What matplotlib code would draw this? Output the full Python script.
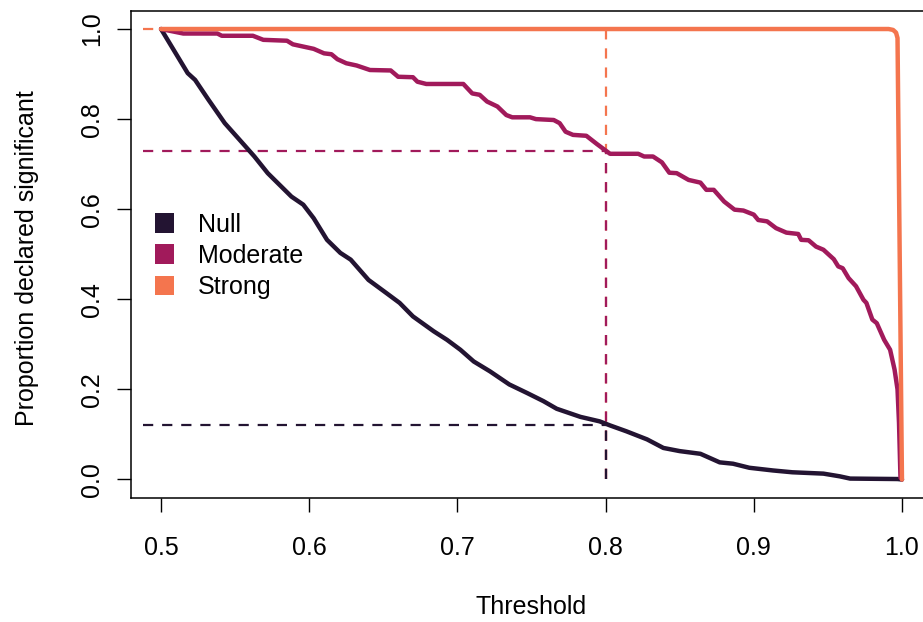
import matplotlib
matplotlib.use("Agg")
import matplotlib.pyplot as plt
from matplotlib.patches import Rectangle

# ---------------- data ----------------
categories = ["Null", "Moderate", "Strong"]
colors = ["#231432", "#A11A5B", "#F4754E"]

null_t = [0.5, 0.518, 0.523, 0.532, 0.543, 0.556, 0.563, 0.572, 0.588, 0.596,
          0.603, 0.612, 0.621, 0.628, 0.640, 0.652, 0.661, 0.670, 0.684, 0.693,
          0.702, 0.711, 0.722, 0.735, 0.747, 0.758, 0.767, 0.783, 0.796, 0.803,
          0.814, 0.828, 0.839, 0.850, 0.864, 0.877, 0.886, 0.897, 0.913, 0.926,
          0.947, 0.958, 0.965, 0.997, 1.0]
null_p = [1.0, 0.902, 0.887, 0.843, 0.791, 0.743, 0.717, 0.680, 0.628, 0.610,
          0.580, 0.532, 0.503, 0.488, 0.443, 0.414, 0.392, 0.362, 0.329, 0.310,
          0.288, 0.262, 0.240, 0.211, 0.192, 0.174, 0.157, 0.139, 0.129, 0.120,
          0.107, 0.089, 0.070, 0.063, 0.057, 0.038, 0.035, 0.026, 0.020, 0.016,
          0.013, 0.007, 0.002, 0.001, 0.0]

mod_t = [0.5, 0.515, 0.538, 0.541, 0.562, 0.569, 0.585, 0.589, 0.596, 0.603,
         0.610, 0.615, 0.619, 0.625, 0.632, 0.641, 0.655, 0.660, 0.670, 0.673,
         0.679, 0.704, 0.710, 0.715, 0.720, 0.727, 0.733, 0.737, 0.749, 0.753,
         0.765, 0.769, 0.773, 0.778, 0.787, 0.794, 0.803, 0.822, 0.826, 0.832,
         0.838, 0.843, 0.848, 0.856, 0.864, 0.868, 0.873, 0.880, 0.887, 0.893,
         0.900, 0.903, 0.909, 0.915, 0.922, 0.930, 0.932, 0.937, 0.942, 0.947,
         0.954, 0.957, 0.960, 0.964, 0.969, 0.974, 0.976, 0.980, 0.983, 0.988,
         0.992, 0.995, 0.997, 0.998, 0.999, 1.0]
mod_p = [1.0, 0.990, 0.990, 0.985, 0.985, 0.976, 0.974, 0.966, 0.961, 0.956,
         0.946, 0.944, 0.933, 0.924, 0.919, 0.909, 0.908, 0.894, 0.893, 0.883,
         0.878, 0.878, 0.857, 0.854, 0.839, 0.828, 0.809, 0.804, 0.804, 0.800,
         0.798, 0.791, 0.772, 0.765, 0.763, 0.745, 0.723, 0.723, 0.717, 0.717,
         0.704, 0.681, 0.680, 0.665, 0.659, 0.643, 0.643, 0.617, 0.599, 0.597,
         0.588, 0.576, 0.573, 0.558, 0.548, 0.545, 0.532, 0.531, 0.517, 0.510,
         0.489, 0.473, 0.469, 0.447, 0.429, 0.399, 0.392, 0.355, 0.347, 0.310,
         0.288, 0.244, 0.200, 0.126, 0.004, 0.0]

strong_t = [0.5, 0.991, 0.994, 0.996, 0.997, 1.0]
strong_p = [1.0, 1.0, 0.998, 0.992, 0.980, 0.0]

series_t = [null_t, mod_t, strong_t]
series_p = [null_p, mod_p, strong_p]

cut = 0.8
cut_p = [0.12, 0.73, 1.0]
seg_start = 0.488

xticks = [0.5, 0.6, 0.7, 0.8, 0.9, 1.0]
xticklabels = ["0.5", "0.6", "0.7", "0.8", "0.9", "1.0"]
yticks = [0.0, 0.2, 0.4, 0.6, 0.8, 1.0]
yticklabels = ["0.0", "0.2", "0.4", "0.6", "0.8", "1.0"]
xlabel = "Threshold"
ylabel = "Proportion declared significant"

# ---------------- figure ----------------
W, H = 923, 622
plt.rcParams['font.family'] = ['Liberation Sans', 'DejaVu Sans']
fs = 18

fig = plt.figure(figsize=(W / 100, H / 100), dpi=100)
ax_l, ax_r, ax_t, ax_b = 131.4, 931.6, 11.0, 497.5
ax = fig.add_axes([ax_l / W, 1 - ax_b / H, (ax_r - ax_l) / W, (ax_b - ax_t) / H])
ax.set_xlim(0.48, 1.02)
ax.set_ylim(-0.04, 1.04)

dash = (0, (4.6, 4.0))
# dashed reference segments (reverse order so the null segment is on top at bottom)
for i in reversed(range(len(categories))):
    ax.plot([seg_start, cut], [cut_p[i], cut_p[i]], color=colors[i], lw=1.6,
            linestyle=dash, zorder=2)
    ax.plot([cut, cut], [0, cut_p[i]], color=colors[i], lw=1.6,
            linestyle=dash, zorder=2)

for i in range(len(categories)):
    ax.plot(series_t[i], series_p[i], color=colors[i], lw=3.2,
            solid_joinstyle='round', solid_capstyle='round', zorder=3 + i)

ax.set_xticks(xticks)
ax.set_xticklabels(xticklabels)
ax.set_yticks(yticks)
ax.set_yticklabels(yticklabels, rotation=90, va='center')
ax.tick_params(axis='both', direction='out', length=10.4, width=1.0,
               labelsize=fs, colors='black')
ax.tick_params(axis='x', pad=17)
ax.tick_params(axis='y', pad=9)
for s in ax.spines.values():
    s.set_linewidth(1.1)

ax.set_xlabel(xlabel, fontsize=fs, va='center')
ax.xaxis.set_label_coords(0.5, (ax_b - 607) / (ax_b - ax_t))
ax.set_ylabel(ylabel, fontsize=fs, va='center')
ax.yaxis.set_label_coords((27 - ax_l) / (ax_r - ax_l), 0.5 - 4 / (ax_b - ax_t))

# legend (manual, R style)
sq = 19
centers = [223, 254, 285]
for i, name in enumerate(categories):
    cy = centers[i]
    fig.add_artist(Rectangle((155 / W, 1 - (cy + sq / 2) / H), sq / W, sq / H,
                             transform=fig.transFigure, color=colors[i], lw=0))
    fig.text(198 / W, 1 - (cy + 0.358 * fs * 100 / 72) / H, name, fontsize=fs,
             va='baseline', ha='left')

fig.savefig("out.png", dpi=100)
